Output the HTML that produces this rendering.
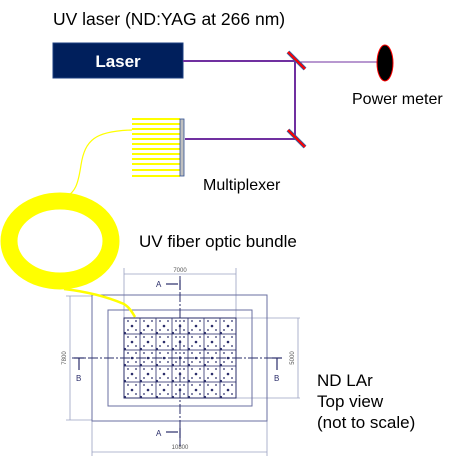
<!DOCTYPE html>
<html><head><style>
html,body{margin:0;padding:0;background:#fff;}
svg{display:block;}
text{font-family:"Liberation Sans",Arial,sans-serif;}
</style></head><body>
<svg width="465" height="464" viewBox="0 0 465 464" xmlns="http://www.w3.org/2000/svg">
<defs>
<pattern id="cell" x="124" y="318" width="16" height="16" patternUnits="userSpaceOnUse">
<rect x="0" y="0" width="16" height="16" fill="none" stroke="#2a2d6a" stroke-width="0.8"/>
<circle cx="8" cy="8" r="1.3" fill="#2a2d6a"/>
<circle cx="4" cy="3" r="0.9" fill="#2a2d6a"/>
<circle cx="12" cy="3" r="0.9" fill="#2a2d6a"/>
<circle cx="4" cy="12" r="0.9" fill="#2a2d6a"/>
<circle cx="12" cy="12" r="0.9" fill="#2a2d6a"/>
<circle cx="1" cy="15" r="1.1" fill="#2a2d6a"/>
</pattern>
</defs>
<text x="53" y="25" font-size="17.5" fill="#000">UV laser (ND:YAG at 266 nm)</text>
<rect x="53" y="43" width="130" height="35" fill="#001f5c" stroke="#1d3f80"/>
<text x="118" y="67" font-size="17" font-weight="bold" fill="#fff" text-anchor="middle">Laser</text>
<g stroke="#7030a0" stroke-width="2" fill="none">
<line x1="183" y1="61" x2="295" y2="61"/>
<line x1="295" y1="61" x2="295" y2="139"/>
<line x1="185" y1="139" x2="295" y2="139"/>
</g>
<line x1="297" y1="62" x2="380" y2="62" stroke="#7030a0" stroke-width="1"/>
<line x1="288" y1="52" x2="305" y2="69" stroke="#3a5a9a" stroke-width="4"/>
<line x1="288" y1="52" x2="305" y2="69" stroke="#ff0000" stroke-width="2"/>
<line x1="288" y1="130" x2="305" y2="147" stroke="#3a5a9a" stroke-width="4"/>
<line x1="288" y1="130" x2="305" y2="147" stroke="#ff0000" stroke-width="2"/>
<ellipse cx="385" cy="63" rx="8" ry="18" fill="#000" stroke="#ff0000" stroke-width="1"/>
<text x="352" y="104" font-size="16" fill="#000">Power meter</text>
<g stroke="#ffff00" stroke-width="2">
<line x1="132" y1="119" x2="180" y2="119"/><line x1="132" y1="124" x2="180" y2="124"/>
<line x1="132" y1="129" x2="180" y2="129"/><line x1="132" y1="134" x2="180" y2="134"/>
<line x1="132" y1="139" x2="180" y2="139"/><line x1="132" y1="144" x2="180" y2="144"/>
<line x1="132" y1="149" x2="180" y2="149"/><line x1="132" y1="154" x2="180" y2="154"/>
<line x1="132" y1="159" x2="180" y2="159"/><line x1="132" y1="164" x2="180" y2="164"/>
<line x1="132" y1="170" x2="180" y2="170"/><line x1="132" y1="176" x2="180" y2="176"/>
</g>
<rect x="180" y="119" width="4" height="57" fill="#c0c0c0" stroke="#2f4f8f" stroke-width="0.8"/>
<text x="203" y="190" font-size="16" fill="#000">Multiplexer</text>
<path d="M132 130 C95 131 85 140 81 165 C78 185 75 192 66 197" stroke="#ffff00" stroke-width="1.2" fill="none"/>
<ellipse cx="60" cy="241" rx="51" ry="40" fill="none" stroke="#ffff00" stroke-width="17"/>
<text x="139" y="247" font-size="17" fill="#000">UV fiber optic bundle</text>
<g stroke="#9aa0c0" stroke-width="0.8" fill="none">
<line x1="124" y1="268" x2="124" y2="318"/><line x1="236" y1="268" x2="236" y2="318"/>
<line x1="124" y1="274" x2="236" y2="274"/>
<line x1="66" y1="296" x2="92" y2="296"/><line x1="66" y1="420" x2="92" y2="420"/>
<line x1="70" y1="296" x2="70" y2="420"/>
<line x1="236" y1="318" x2="300" y2="318"/><line x1="236" y1="398" x2="300" y2="398"/>
<line x1="298" y1="318" x2="298" y2="398"/>
<line x1="92" y1="421" x2="92" y2="456"/><line x1="267" y1="421" x2="267" y2="456"/>
<line x1="92" y1="452" x2="267" y2="452"/>
</g>
<text x="180" y="272" font-size="6" fill="#555" text-anchor="middle">7000</text>
<text x="180" y="449" font-size="6" fill="#555" text-anchor="middle">10800</text>
<text x="66" y="358" font-size="6" fill="#555" text-anchor="middle" transform="rotate(-90 66 358)">7800</text>
<text x="294" y="358" font-size="6" fill="#555" text-anchor="middle" transform="rotate(-90 294 358)">5000</text>
<rect x="92" y="295" width="175" height="126" fill="none" stroke="#6a6fa0" stroke-width="1"/>
<rect x="108" y="310" width="144" height="96" fill="none" stroke="#6a6fa0" stroke-width="1"/>
<rect x="124" y="318" width="112" height="80" fill="url(#cell)" stroke="#2a2d6a" stroke-width="1"/>
<g stroke="#2a2d6a" stroke-width="1" fill="none" stroke-dasharray="10 2 2 2">
<line x1="180" y1="276" x2="180" y2="446"/>
<line x1="72" y1="358" x2="282" y2="358"/>
</g>
<g stroke="#2a2d6a" stroke-width="1.2">
<line x1="180" y1="280" x2="180" y2="290"/><line x1="166" y1="284" x2="178" y2="284"/>
<line x1="180" y1="428" x2="180" y2="438"/><line x1="166" y1="432" x2="178" y2="432"/>
<line x1="74" y1="358" x2="84" y2="358"/><line x1="79" y1="358" x2="79" y2="370"/>
<line x1="272" y1="358" x2="282" y2="358"/><line x1="277" y1="358" x2="277" y2="370"/>
</g>
<g fill="#2a2d6a" font-size="8">
<text x="156" y="287">A</text><text x="156" y="436">A</text>
<text x="76" y="381">B</text><text x="274" y="381">B</text>
</g>
<path d="M64 289 C90 292 110 298 124 304 C130 308 132 312 135 317" stroke="#ffff00" stroke-width="2.5" fill="none"/>
<text x="317" y="386" font-size="17" fill="#000">ND LAr</text>
<text x="317" y="407" font-size="17" fill="#000">Top view</text>
<text x="317" y="428" font-size="17" fill="#000">(not to scale)</text>
</svg>
</body></html>
